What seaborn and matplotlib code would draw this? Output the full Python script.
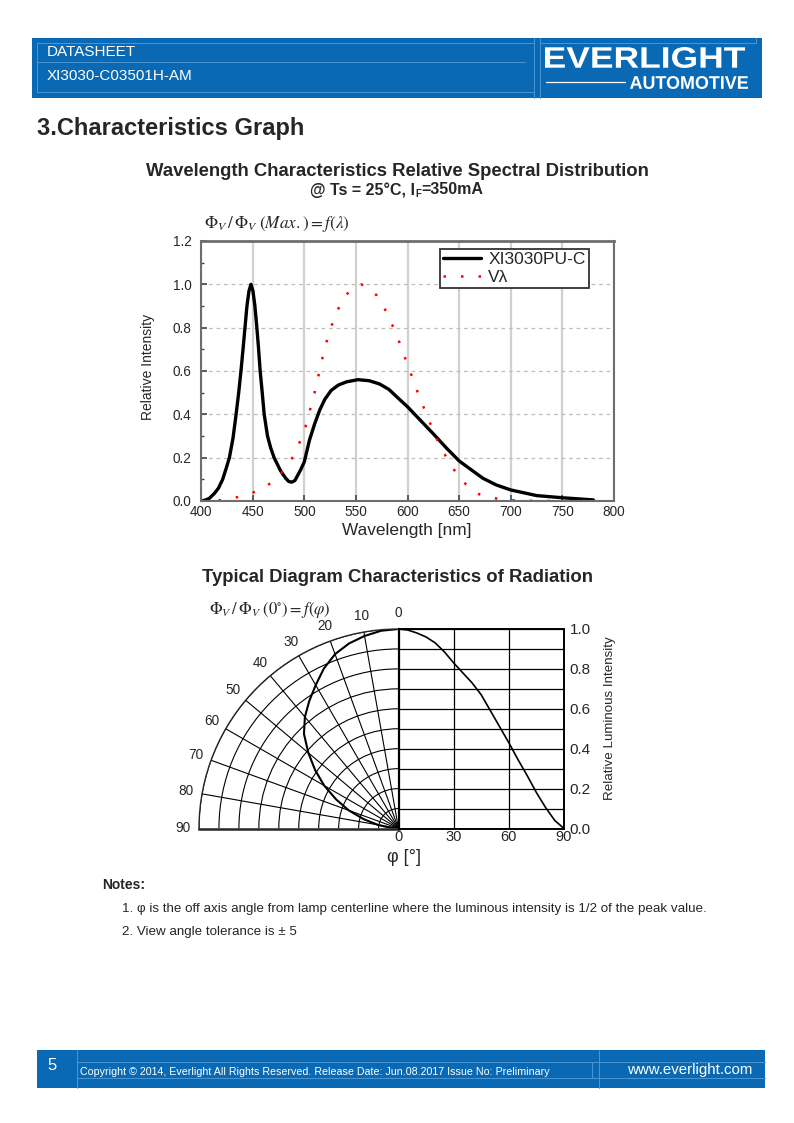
import numpy as np
import matplotlib.pyplot as plt
import seaborn as sns
from matplotlib.patches import Rectangle, PathPatch
from matplotlib.textpath import TextPath
from matplotlib.font_manager import FontProperties
from matplotlib.transforms import Affine2D
from matplotlib.ticker import MultipleLocator, FormatStrFormatter

sns.set_style('white')
plt.rcParams['font.family'] = ['Liberation Sans', 'DejaVu Sans']
plt.rcParams['mathtext.fontset'] = 'stix'

BLUE = '#0a69b4'
EDGE = '#4b97d2'

# Relative spectral distribution of XI3030PU-C
spd_nm = [400, 404, 408, 413, 417, 421, 424, 427.5, 431, 434, 436.5, 438.7, 440.7, 442.6,
          444.5, 446.5, 448.4, 450.3, 452.2, 454.1, 455.8, 457.3, 459.3, 461.2, 464.4, 467.5,
          470.8, 477, 482, 485, 488, 491, 496.4, 500, 505, 510, 515, 520, 526, 533, 541, 552,
          563, 573, 582, 592, 600, 609, 625, 638, 650, 660, 673, 686, 700, 725, 750, 780]
spd_rel = [0.0, 0.004, 0.012, 0.035, 0.06, 0.10, 0.145, 0.20, 0.29, 0.40, 0.50, 0.60, 0.70, 0.80,
           0.90, 0.97, 1.0, 0.97, 0.90, 0.80, 0.70, 0.60, 0.50, 0.40, 0.30, 0.245,
           0.20, 0.14, 0.105, 0.09, 0.087, 0.095, 0.143, 0.18, 0.28, 0.355, 0.42, 0.47, 0.51, 0.535, 0.55, 0.56,
           0.555, 0.54, 0.515, 0.47, 0.435, 0.39, 0.31, 0.243, 0.185, 0.15, 0.105, 0.074, 0.051, 0.025, 0.015, 0.005]

# Eye sensitivity curve V(lambda)
vl_nm = [400, 410, 420, 430, 440, 450, 460, 470, 480, 490, 500, 510, 520, 530, 540, 550, 555,
         560, 570, 580, 590, 600, 610, 620, 630, 640, 650, 660, 670, 680, 690, 700, 710, 720,
         730, 740, 750, 760, 770, 780]
vl_rel = [0.0, 0.001, 0.004, 0.012, 0.023, 0.038, 0.06, 0.09, 0.14, 0.21, 0.32, 0.50, 0.71, 0.86,
          0.95, 0.99, 1.0, 0.99, 0.95, 0.87, 0.76, 0.63, 0.50, 0.38, 0.27, 0.18, 0.11, 0.06, 0.03,
          0.017, 0.008, 0.004, 0.002, 0.001, 0.0005, 0.0002, 0.0001, 0.0, 0.0, 0.0]

# Radiation pattern, relative luminous intensity vs off-axis angle
rad_deg = [0, 5, 10, 15, 20, 25, 30, 35, 40, 45, 50, 55, 60, 65, 70, 75, 80, 85, 90]
rad_rel = [1.0, 0.995, 0.98, 0.96, 0.93, 0.885, 0.83, 0.78, 0.73, 0.67, 0.59, 0.51, 0.43,
           0.345, 0.265, 0.18, 0.105, 0.04, 0.0]

W, H = 794, 1123
fig = plt.figure(figsize=(W / 100, H / 100), dpi=100)


def box(x0, y0, x1, y1):
    # axes rect from pixel corners, origin top-left
    return [x0 / W, 1 - y1 / H, (x1 - x0) / W, (y1 - y0) / H]


def logo_text(ax, s, x0, y0, x1, y1):
    # wide logo lettering: glyph outline stretched into a pixel box
    tp = TextPath((0, 0), s, size=30, prop=FontProperties(family='Liberation Sans', weight='bold'))
    ext = tp.get_extents()
    tr = (Affine2D().translate(-ext.x0, -ext.y0)
          .scale((x1 - x0) / ext.width, -(y1 - y0) / ext.height)
          .translate(x0, y1))
    ax.add_patch(PathPatch(tr.transform_path(tp), color='white', lw=0))


# page layer: header, footer, free text
page = fig.add_axes([0, 0, 1, 1], zorder=0)
page.set_xlim(0, W)
page.set_ylim(H, 0)
page.axis('off')

# header
page.add_patch(Rectangle((32, 38), 730, 60, color=BLUE, lw=0))
for xs, ys in [([37, 534], [43, 43]), ([37, 525], [62, 62]), ([37, 534], [92, 92]),
               ([37, 37], [43, 92]), ([534, 534], [38, 98]), ([540, 540], [38, 98]),
               ([540, 756], [43, 43]), ([756, 756], [38, 43])]:
    page.plot(xs, ys, color=EDGE, lw=0.7)
page.text(47, 52, 'DATASHEET', color='white', fontsize=11, va='center')
page.text(47, 76, 'XI3030-C03501H-AM', color='white', fontsize=11, va='center')
logo_text(page, 'EVERLIGHT', 545, 47, 745, 68)
logo_text(page, 'AUTOMOTIVE', 630, 76, 748, 89)
page.plot([546, 625], [82, 82], color='white', lw=0.9)

page.text(37, 128, '3.Characteristics Graph', fontsize=17, fontweight='bold', va='center')

# spectral distribution
page.text(397, 171, 'Wavelength Characteristics Relative Spectral Distribution',
          fontsize=13.3, fontweight='bold', ha='center', va='center')
page.text(415, 190, '@ Ts = 25°C, I', fontsize=11.5, fontweight='bold', ha='right', va='center')
page.text(415.5, 194, 'F', fontsize=7, fontweight='bold', ha='left', va='center')
page.text(421.5, 190, '=350mA', fontsize=11.5, fontweight='bold', ha='left', va='center')
page.text(204, 224, r'$\Phi_V\,/\,\Phi_V\;(Max.) = f\left(\lambda\right)$', fontsize=12.3, va='center')

ax1 = fig.add_axes(box(201, 241, 614, 501), zorder=1)
sns.lineplot(x=spd_nm, y=spd_rel, ax=ax1, color='black', lw=2.4, label='XI3030PU-C')
sns.lineplot(x=vl_nm, y=vl_rel, ax=ax1, color='red', lw=1.8, label='Vλ')
ax1.lines[1].set_linestyle((0, (1, 6)))
ax1.set_xlim(400, 800)
ax1.set_ylim(0, 1.2)
ax1.set_xticks(np.arange(400, 801, 50))
ax1.set_yticks(np.arange(0, 1.21, 0.2))
ax1.yaxis.set_major_formatter(FormatStrFormatter('%.1f'))
ax1.yaxis.set_minor_locator(MultipleLocator(0.1))
ax1.tick_params(axis='both', which='major', direction='in', length=4, width=1.2,
                color='#444444', labelsize=9.8, left=True, bottom=True)
ax1.tick_params(axis='x', which='major', pad=3)
ax1.tick_params(axis='y', which='major', pad=7)
ax1.tick_params(axis='y', which='minor', direction='in', length=2.5, width=1, color='#444444', left=True)
ax1.set_axisbelow(True)
ax1.xaxis.grid(True, color='#d0d0d0', lw=1.6)
ax1.yaxis.grid(True, which='major', color='#bdbdbd', lw=0.9, ls=(0, (3, 3)))
for s in ax1.spines.values():
    s.set_color('#6e6e6e')
    s.set_linewidth(1.5)
ax1.spines['top'].set_linewidth(2)
ax1.set_xlabel('')
ax1.set_ylabel('')
leg = ax1.legend(loc='upper right', bbox_to_anchor=(0.94, 0.97), borderaxespad=0, fancybox=False,
                 framealpha=1, edgecolor='#333333', fontsize=12.5, handlelength=2.2,
                 borderpad=0.2, labelspacing=0.12, handletextpad=0.4)
leg.get_frame().set_linewidth(1.3)
page.text(148, 367, 'Relative Intensity', rotation=90, fontsize=10, ha='center', va='center')
page.text(407, 531, 'Wavelength [nm]', fontsize=12.4, ha='center', va='center')

# radiation diagram
page.text(397, 577, 'Typical Diagram Characteristics of Radiation',
          fontsize=13.3, fontweight='bold', ha='center', va='center')
page.text(209, 610, r'$\Phi_V\,/\,\Phi_V\;(0^{\circ}) = f\left(\varphi\right)$', fontsize=12, va='center')

pax = fig.add_axes(box(199, 629, 398.5, 828.5), projection='polar', zorder=1)
pax.set_theta_zero_location('N')
pax.set_theta_direction(1)
pax.set_thetamin(0)
pax.set_thetamax(90)
pax.set_rlim(0, 1)
pax.set_xticks(np.deg2rad(np.arange(0, 91, 10)))
pax.set_xticklabels([])
pax.set_yticks(np.arange(0.1, 1.01, 0.1))
pax.set_yticklabels([])
pax.tick_params(length=0)
pax.grid(True, color='black', lw=0.8)
pax.spines['polar'].set_linewidth(1.0)
pax.spines['start'].set_linewidth(1.6)
pax.spines['end'].set_linewidth(1.8)
pax.spines['inner'].set_visible(False)
for a in range(0, 91, 10):
    pax.text(np.deg2rad(a), 1.08, str(a), fontsize=9.8, ha='center', va='center')
sns.lineplot(x=np.deg2rad(rad_deg), y=rad_rel, ax=pax, color='black', lw=1.5, legend=False)
pax.set_xlabel('')
pax.set_ylabel('')

rax = fig.add_axes(box(398.5, 629, 564, 828.5), zorder=1)
sns.lineplot(x=rad_deg, y=rad_rel, ax=rax, color='black', lw=1.2)
rax.set_xlim(0, 90)
rax.set_ylim(0, 1.0)
rax.set_xticks([0, 30, 60, 90])
rax.set_yticks(np.arange(0, 1.01, 0.2))
rax.yaxis.set_minor_locator(MultipleLocator(0.1))
rax.yaxis.set_major_formatter(FormatStrFormatter('%.1f'))
rax.yaxis.tick_right()
rax.tick_params(which='both', length=0, labelsize=11, pad=4)
rax.tick_params(axis='x', labelsize=10.5, pad=1)
rax.grid(True, which='both', axis='y', color='black', lw=0.9)
rax.grid(True, which='major', axis='x', color='black', lw=0.9)
for s in rax.spines.values():
    s.set_color('black')
    s.set_linewidth(1.4)
rax.set_xlabel('')
rax.set_ylabel('')
page.text(404, 858, 'φ [°]', fontsize=13, ha='center', va='center')
page.text(610, 718, 'Relative Luminous Intensity', rotation=90, fontsize=9.6, ha='center', va='center')

# notes
page.text(102, 885, 'Notes:', fontsize=10, fontweight='bold', va='center')
page.text(122, 909, '1. φ is the off axis angle from lamp centerline where the luminous intensity is 1/2 of the peak value.',
          fontsize=9.6, va='center')
page.text(122, 932, '2. View angle tolerance is ± 5', fontsize=9.6, va='center')

# footer
page.add_patch(Rectangle((37, 1050), 728, 38, color=BLUE, lw=0))
for xs, ys in [([77, 77], [1050, 1088]), ([77, 765], [1062, 1062]), ([77, 765], [1078, 1078]),
               ([592, 592], [1062, 1078]), ([599, 599], [1050, 1088])]:
    page.plot(xs, ys, color=EDGE, lw=0.7)
page.text(47, 1066, '5', color='white', fontsize=12, va='center')
page.text(80, 1072, 'Copyright © 2014, Everlight All Rights Reserved. Release Date: Jun.08.2017 Issue No: Preliminary',
          color='white', fontsize=7.7, va='center')
page.text(752, 1070, 'www.everlight.com', color='white', fontsize=10.8, ha='right', va='center')

fig.savefig('out.png', dpi=100)
